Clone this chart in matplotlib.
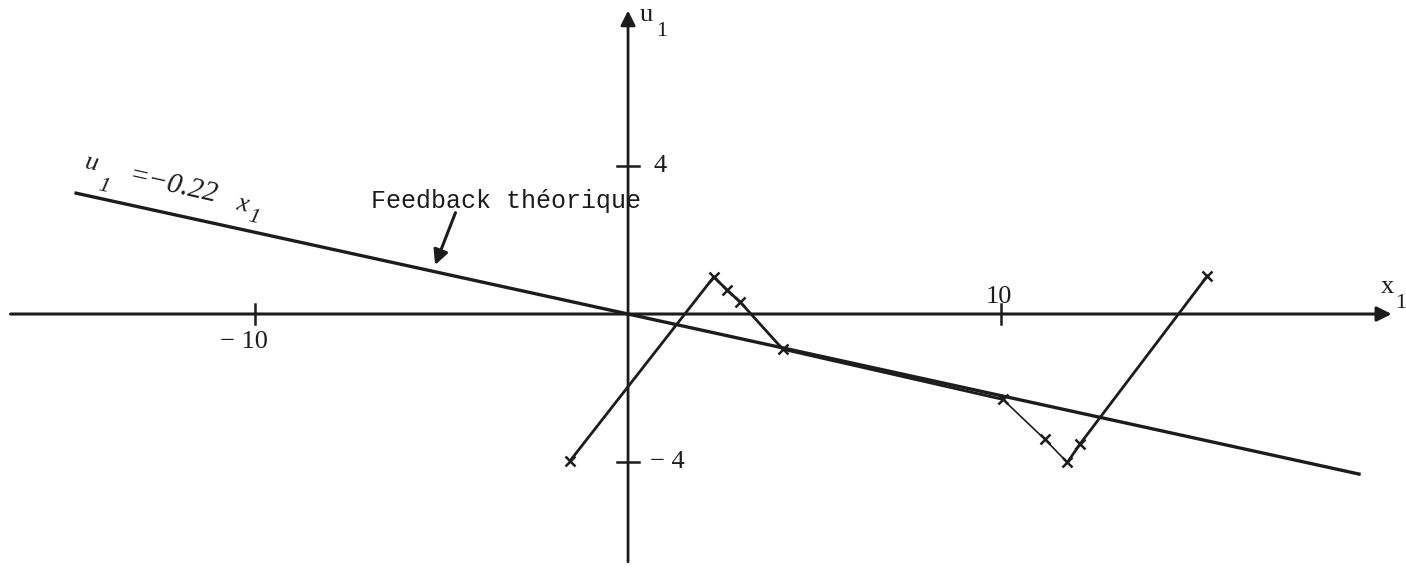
"""Phase-plane trajectory of the closed loop against the theoretical feedback law"""

import matplotlib
matplotlib.use("Agg")
import matplotlib.pyplot as plt
import numpy as np

# theoretical feedback gain: u1 = K * x1
K = -0.22
line_x = [-14.8, 19.6]

# measured trajectory (x1, u1)
traj_x = [-1.55, 2.3, 2.65, 3.0, 4.15, 10.05, 11.18, 11.78, 12.12, 15.53]
traj_u = [-3.95, 1.0, 0.65, 0.33, -0.95, -2.3, -3.38, -4.0, -3.5, 1.02]

x_ticks = [-10, 10]
u_ticks = [-4, 4]

ink = '#1c1c1c'

fig = plt.figure(figsize=(14.06, 5.69), dpi=100)
ax = fig.add_axes([0, 0, 1, 1])
ax.set_xlim(-16.84, 20.86)
ax.set_ylim(-6.87, 8.46)
ax.axis('off')

# axes drawn by hand with arrow heads
ax.annotate('', xy=(20.55, 0), xytext=(-16.63, 0),
            arrowprops=dict(arrowstyle='-|>', color=ink, lw=2.2, mutation_scale=22))
ax.annotate('', xy=(0, 8.25), xytext=(0, -6.75),
            arrowprops=dict(arrowstyle='-|>', color=ink, lw=2.0, mutation_scale=22))

for t in x_ticks:
    ax.plot([t, t], [-0.28, 0.28], color=ink, lw=1.8)
for t in u_ticks:
    ax.plot([-0.3, 0.3], [t, t], color=ink, lw=1.8)

serif = 'Liberation Serif'
ax.text(-10.3, -0.75, '\u2212 10', fontsize=19, family=serif, ha='center', va='center', color=ink)
ax.text(9.95, 0.45, '10', fontsize=19, family=serif, ha='center', va='center', color=ink)
ax.text(0.85, 4.0, '4', fontsize=19, family=serif, ha='center', va='center', color=ink)
ax.text(1.05, -4.0, '\u2212 4', fontsize=19, family=serif, ha='center', va='center', color=ink)

# axis names
ax.text(0.5, 8.05, 'u', fontsize=19, family=serif, ha='center', va='center', color=ink)
ax.text(0.9, 7.6, '1', fontsize=16, family=serif, ha='center', va='center', color=ink)
ax.text(20.35, 0.72, 'x', fontsize=19, family=serif, ha='center', va='center', color=ink)
ax.text(20.72, 0.28, '1', fontsize=16, family=serif, ha='center', va='center', color=ink)

# theoretical feedback line
lx = np.array(line_x)
ax.plot(lx, K * lx, color=ink, lw=2.4)

# trajectory, the part along the switching line is traced thinner
ax.plot(traj_x[:6], traj_u[:6], color=ink, lw=2.0)
ax.plot(traj_x[5:8], traj_u[5:8], color=ink, lw=1.2)
ax.plot(traj_x[7:], traj_u[7:], color=ink, lw=2.0)
ax.plot(traj_x, traj_u, linestyle='none', marker='x', ms=7, mew=1.8, color=ink)

# equation label written along the line, piece by piece
rot = -12.6
eq = dict(family=serif, style='italic', rotation=rot, rotation_mode='anchor',
          ha='center', va='center', color=ink)
ax.text(-14.4, 4.05, 'u', fontsize=19, **eq)
ax.text(-14.06, 3.42, '1', fontsize=16, **eq)
ax.text(-12.2, 3.45, '=\u2212%.2f' % abs(K), fontsize=21, **eq)
ax.text(-10.35, 2.94, 'x', fontsize=19, **eq)
ax.text(-10.05, 2.6, '1', fontsize=16, **eq)

ax.text(-6.9, 3.05, 'Feedback th\u00e9orique', fontsize=18, family='Liberation Mono',
        ha='left', va='center', color=ink)
ax.annotate('', xy=(-5.2, 1.25), xytext=(-4.6, 2.8),
            arrowprops=dict(arrowstyle='-|>', color=ink, lw=2.2, mutation_scale=22))

fig.savefig('out.png', dpi=100)
